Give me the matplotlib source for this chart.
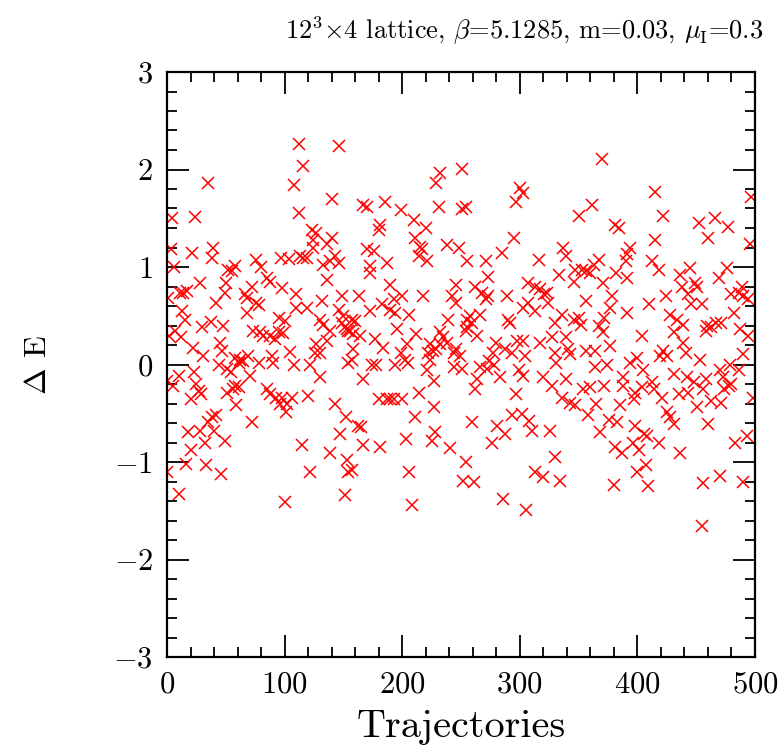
import matplotlib
matplotlib.use("Agg")
import matplotlib.pyplot as plt
from matplotlib.ticker import MultipleLocator

plt.rcParams['font.family'] = ['cmr10', 'DejaVu Serif']
plt.rcParams['mathtext.fontset'] = 'cm'
plt.rcParams['axes.formatter.use_mathtext'] = True

# (trajectory, Delta E) readings, grouped by x range
traj_a = [35, 4, 24, 3, 21, 39, 38, 6, 52, 28, 50, 1, 11, 17, 14, 49, 42, 13, 15, 37, 30, 48, 7, 2, 12, 45, 22, 31, 47, 44,
          23, 10, 0, 5, 25, 27, 29, 20, 51, 38, 42, 35, 18, 28, 40, 32, 49, 20, 16, 33, 0, 46, 10]
dE_a = [1.86, 1.50, 1.51, 1.18, 1.14, 1.19, 1.09, 1.00, 0.97, 0.84, 0.84, 0.68, 0.73, 0.75, 0.73, 0.73, 0.63, 0.55, 0.46, 0.44,
        0.38, 0.39, 0.34, 0.29, 0.28, 0.22, 0.17, 0.09, 0.14, 0.00, -0.08, -0.12, -0.17, -0.22, -0.20, -0.27, -0.30, -0.35,
        -0.29, -0.54, -0.52, -0.59, -0.69, -0.68, -0.68, -0.80, -0.78, -0.88, -1.02, -1.03, -1.10, -1.12, -1.33]

traj_b = [58, 76, 80, 97, 104, 55, 85, 88, 72, 66, 68, 98, 76, 78, 68, 95, 100, 73, 79, 82, 88, 95, 92, 99, 58, 62, 65, 69,
          61, 78, 89, 90, 105, 51, 54, 71, 58, 61, 56, 85, 88, 93, 98, 96, 101, 59, 72, 100]
dE_b = [1.01, 1.07, 1.00, 1.09, 1.08, 0.96, 0.89, 0.85, 0.80, 0.72, 0.68, 0.78, 0.63, 0.61, 0.53, 0.48, 0.45, 0.34, 0.33,
        0.29, 0.29, 0.33, 0.26, 0.32, 0.07, 0.05, 0.04, 0.09, 0.02, 0.02, 0.09, 0.02, 0.13, -0.05, -0.08, -0.12, -0.22,
        -0.23, -0.25, -0.25, -0.30, -0.34, -0.34, -0.40, -0.49, -0.42, -0.59, -1.41]

traj_c = [112, 146, 116, 108, 140, 112, 123, 127, 124, 140, 136, 124, 113, 116, 119, 143, 133, 139, 146, 136, 110, 132, 149,
          110, 119, 146, 150, 130, 133, 149, 153, 154, 139, 136, 127, 126, 130, 108, 122, 154, 130, 106, 102, 120, 143, 152,
          147, 115, 139, 153, 154, 122, 151]
dE_c = [2.26, 2.24, 2.04, 1.84, 1.70, 1.55, 1.38, 1.35, 1.28, 1.30, 1.24, 1.19, 1.11, 1.09, 1.09, 1.11, 1.02, 1.06, 1.04,
        0.87, 0.72, 0.65, 0.70, 0.58, 0.58, 0.56, 0.50, 0.46, 0.41, 0.43, 0.36, 0.34, 0.34, 0.24, 0.21, 0.12, 0.12, -0.01,
        -0.01, 0.02, -0.13, -0.34, -0.40, -0.32, -0.41, -0.54, -0.71, -0.83, -0.91, -0.98, -1.10, -1.10, -1.34]

traj_d = [167, 170, 185, 199, 181, 180, 170, 176, 187, 173, 173, 190, 163, 183, 193, 200, 173, 190, 194, 206, 157, 160, 151,
          156, 158, 164, 177, 196, 184, 204, 158, 199, 202, 194, 157, 174, 178, 167, 180, 187, 190, 193, 200, 162, 165, 167,
          181, 203, 157, 206]
dE_d = [1.64, 1.62, 1.67, 1.58, 1.43, 1.38, 1.18, 1.16, 1.04, 1.01, 0.94, 0.82, 0.70, 0.62, 0.67, 0.70, 0.55, 0.56, 0.53,
        0.51, 0.46, 0.45, 0.38, 0.34, 0.31, 0.29, 0.26, 0.36, 0.17, 0.21, 0.16, 0.12, 0.05, 0.00, 0.05, -0.01, -0.01, -0.15,
        -0.35, -0.35, -0.35, -0.35, -0.35, -0.63, -0.64, -0.83, -0.85, -0.76, -1.08, -1.10]

traj_e = [251, 232, 229, 231, 251, 254, 210, 220, 211, 215, 217, 238, 248, 214, 221, 255, 246, 218, 242, 246, 239, 255, 212,
          232, 235, 254, 238, 224, 222, 226, 229, 232, 244, 246, 249, 205, 224, 221, 244, 251, 227, 214, 227, 211, 228, 225,
          241, 254, 252, 208]
dE_e = [2.01, 1.96, 1.86, 1.62, 1.59, 1.62, 1.48, 1.40, 1.30, 1.21, 1.18, 1.23, 1.19, 1.11, 1.06, 1.06, 0.82, 0.70, 0.70,
        0.63, 0.46, 0.46, 0.31, 0.33, 0.28, 0.34, 0.22, 0.21, 0.12, 0.14, 0.16, 0.21, 0.12, 0.16, 0.09, 0.02, 0.05, -0.06,
        -0.03, -0.05, -0.17, -0.29, -0.44, -0.54, -0.69, -0.78, -0.86, -1.00, -1.19, -1.44]

traj_f = [300, 303, 297, 295, 285, 271, 273, 262, 268, 273, 271, 289, 307, 303, 258, 266, 290, 292, 255, 259, 264, 280, 298,
          277, 287, 293, 304, 274, 266, 272, 278, 283, 299, 303, 264, 262, 297, 293, 302, 308, 259, 281, 287, 276, 261, 286,
          305]
dE_f = [1.81, 1.76, 1.67, 1.30, 1.14, 1.06, 0.90, 0.80, 0.73, 0.70, 0.67, 0.70, 0.84, 0.58, 0.50, 0.51, 0.46, 0.43, 0.38,
        0.43, 0.29, 0.22, 0.24, 0.12, 0.16, 0.12, 0.09, 0.04, -0.03, -0.05, -0.01, -0.13, -0.06, -0.12, -0.15, -0.25, -0.30,
        -0.52, -0.51, -0.58, -0.59, -0.63, -0.71, -0.80, -1.20, -1.38, -1.49]

traj_g = [350, 337, 339, 316, 333, 347, 353, 356, 346, 313, 317, 321, 323, 324, 307, 313, 356, 336, 330, 346, 350, 352, 303,
          317, 327, 339, 330, 341, 343, 356, 331, 320, 327, 339, 336, 343, 347, 354, 358, 310, 326, 330, 313, 320, 334]
dE_g = [1.52, 1.19, 1.11, 1.07, 0.92, 0.97, 0.97, 0.96, 0.85, 0.80, 0.77, 0.72, 0.73, 0.63, 0.63, 0.55, 0.65, 0.51, 0.43,
        0.46, 0.48, 0.41, 0.24, 0.22, 0.28, 0.28, 0.12, 0.16, 0.11, 0.14, 0.02, -0.13, -0.22, -0.15, -0.34, -0.39, -0.42,
        -0.25, -0.52, -0.68, -0.68, -0.95, -1.10, -1.15, -1.19]

traj_h = [370, 361, 381, 384, 394, 391, 390, 367, 363, 360, 382, 391, 371, 378, 377, 372, 391, 410, 367, 371, 404, 377, 364,
          394, 400, 364, 374, 405, 388, 360, 372, 388, 404, 398, 397, 365, 385, 376, 383, 368, 398, 408, 396, 381, 401, 387,
          400, 407, 380, 409]
dE_h = [2.11, 1.64, 1.43, 1.40, 1.19, 1.13, 1.06, 1.07, 1.02, 0.94, 0.94, 0.89, 0.84, 0.70, 0.58, 0.48, 0.53, 0.62, 0.39,
        0.33, 0.29, 0.19, 0.14, 0.02, 0.07, -0.03, 0.00, -0.06, -0.13, -0.23, -0.22, -0.22, -0.23, -0.29, -0.35, -0.40,
        -0.42, -0.57, -0.59, -0.69, -0.63, -0.73, -0.80, -0.85, -0.88, -0.91, -1.10, -1.03, -1.24, -1.25]

traj_i = [415, 422, 452, 460, 415, 412, 418, 436, 445, 449, 451, 438, 443, 446, 455, 424, 428, 434, 439, 459, 458, 431, 439,
          441, 422, 419, 425, 453, 431, 442, 448, 458, 412, 414, 435, 443, 456, 421, 451, 425, 428, 431, 460, 406, 418, 436,
          456, 455]
dE_i = [1.77, 1.52, 1.45, 1.30, 1.28, 1.06, 0.97, 0.92, 0.99, 0.84, 0.80, 0.80, 0.72, 0.62, 0.62, 0.70, 0.51, 0.46, 0.41,
        0.39, 0.34, 0.33, 0.22, 0.12, 0.14, 0.09, 0.09, 0.05, -0.10, -0.13, -0.18, -0.15, -0.18, -0.25, -0.30, -0.29, -0.25,
        -0.34, -0.44, -0.49, -0.54, -0.61, -0.61, -0.71, -0.80, -0.91, -1.22, -1.66]

traj_j = [497, 466, 477, 496, 476, 469, 489, 480, 486, 490, 494, 482, 463, 467, 471, 487, 494, 490, 479, 486, 470, 473, 478,
          480, 474, 463, 471, 498, 493, 483, 470, 490]
dE_j = [1.72, 1.50, 1.41, 1.24, 0.99, 0.89, 0.80, 0.72, 0.73, 0.70, 0.67, 0.53, 0.38, 0.43, 0.43, 0.36, 0.29, 0.11, 0.00,
        -0.06, -0.06, -0.13, -0.22, -0.20, -0.25, -0.37, -0.39, -0.34, -0.73, -0.81, -1.14, -1.20]

trajectories = traj_a + traj_b + traj_c + traj_d + traj_e + traj_f + traj_g + traj_h + traj_i + traj_j
delta_E = dE_a + dE_b + dE_c + dE_d + dE_e + dE_f + dE_g + dE_h + dE_i + dE_j

x_ticks = [0, 100, 200, 300, 400, 500]
y_ticks = [-3, -2, -1, 0, 1, 2, 3]

fig = plt.figure(figsize=(7.83, 7.49), dpi=100)
ax = fig.add_axes([167/783, 1 - 657/749, (755-167)/783, (657-72)/749])
ax.plot(trajectories, delta_E, linestyle='none', marker='x', color='#ff0000',
        markersize=9, markeredgewidth=1.1)

ax.set_xlim(0, 500)
ax.set_ylim(-3, 3)
ax.set_xticks(x_ticks)
ax.set_yticks(y_ticks)
ax.xaxis.set_minor_locator(MultipleLocator(20))
ax.yaxis.set_minor_locator(MultipleLocator(0.2))
ax.tick_params(which='both', direction='in', top=True, right=True, width=1.3, colors='black')
ax.tick_params(which='major', length=16, labelsize=22, pad=10)
ax.tick_params(which='minor', length=7)
for s in ax.spines.values():
    s.set_linewidth(1.6)

ax.set_xlabel('Trajectories', fontsize=29, labelpad=8)
ax.set_ylabel(r'$\Delta$ E', fontsize=23, labelpad=44)
ax.set_title(r'$12^3$$\times$4 lattice, $\beta$=5.1285, m=0.03, $\mu_{\rm I}$=0.3',
             fontsize=19, loc='right', pad=24, x=1.015)

fig.savefig('out.png', dpi=100)
